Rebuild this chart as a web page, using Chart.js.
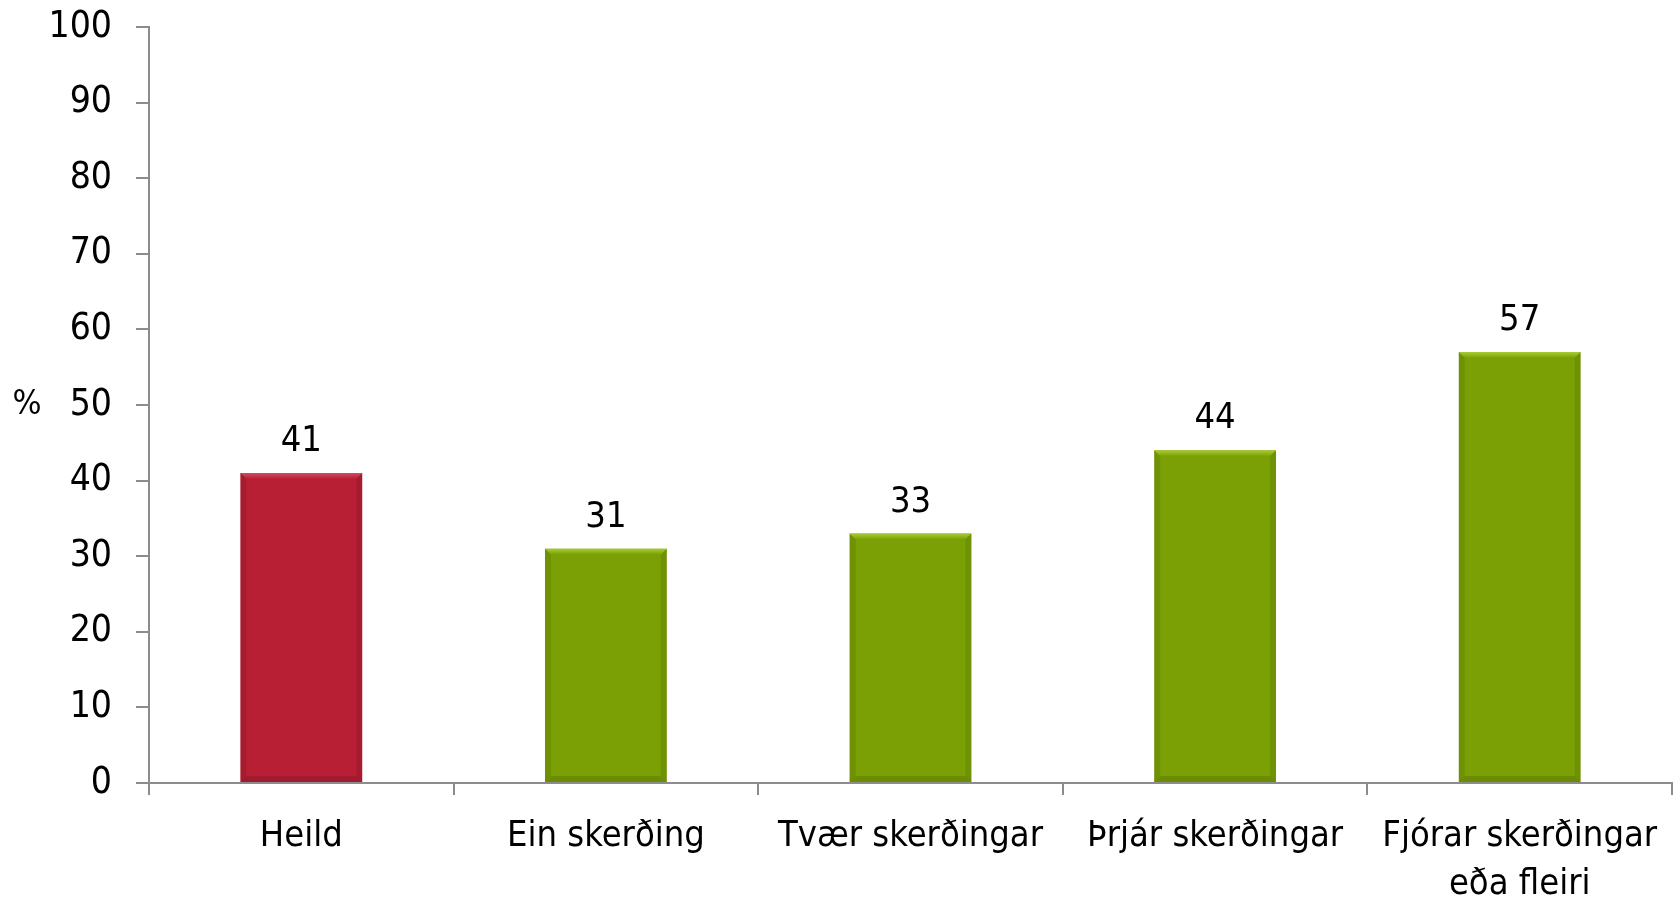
<!DOCTYPE html>
<html lang="is">
<head>
  <meta charset="UTF-8">
  <title>Skerðingar</title>
  <script src="https://cdn.jsdelivr.net/npm/chart.js"></script>
  <style>
    html, body { margin: 0; padding: 0; background: #fff; }
    #wrap { width: 1675px; height: 901px; }
  </style>
</head>
<body>
  <div id="wrap"><canvas id="chart" width="1675" height="901"></canvas></div>
  <script>
    // gögn
    const categories = ['Heild', 'Ein skerðing', 'Tvær skerðingar', 'Þrjár skerðingar', ['Fjórar skerðingar', 'eða fleiri']];
    const values = [41, 31, 33, 44, 57];
    const barColors = ['#B81E34', '#7AA005', '#7AA005', '#7AA005', '#7AA005'];
    const topColors = ['#D64A5E', '#A9CB35', '#A9CB35', '#A9CB35', '#A9CB35'];
    const yTitle = '%';

    const FONT = "'Liberation Sans Narrow', 'DejaVu Sans Condensed', 'Liberation Sans', sans-serif";
    const axisColor = '#8C8C8C';

    // skábrúnir á súlum + gildi ofan á
    const bevelPlugin = {
      id: 'bevel',
      afterDatasetsDraw(chart) {
        const ctx = chart.ctx;
        const meta = chart.getDatasetMeta(0);
        meta.data.forEach((bar, i) => {
          const l = bar.x - bar.width / 2, r = bar.x + bar.width / 2;
          const t = bar.y, b = bar.base;
          const e = 6;
          ctx.save();
          // toppur
          const g = ctx.createLinearGradient(0, t, 0, t + e);
          g.addColorStop(0, topColors[i]);
          g.addColorStop(1, barColors[i]);
          ctx.fillStyle = g;
          ctx.beginPath();
          ctx.moveTo(l, t); ctx.lineTo(r, t); ctx.lineTo(r - e, t + e); ctx.lineTo(l + e, t + e); ctx.closePath();
          ctx.fill();
          // hliðar
          ctx.fillStyle = 'rgba(0,0,0,0.09)';
          ctx.beginPath();
          ctx.moveTo(l, t); ctx.lineTo(l + e, t + e); ctx.lineTo(l + e, b - e); ctx.lineTo(l, b); ctx.closePath();
          ctx.fill();
          ctx.beginPath();
          ctx.moveTo(r, t); ctx.lineTo(r - e, t + e); ctx.lineTo(r - e, b - e); ctx.lineTo(r, b); ctx.closePath();
          ctx.fill();
          // botn
          ctx.fillStyle = 'rgba(0,0,0,0.12)';
          ctx.beginPath();
          ctx.moveTo(l, b); ctx.lineTo(l + e, b - e); ctx.lineTo(r - e, b - e); ctx.lineTo(r, b); ctx.closePath();
          ctx.fill();
          // gildi
          ctx.fillStyle = '#000';
          ctx.font = '36px ' + FONT;
          ctx.textAlign = 'center';
          ctx.textBaseline = 'alphabetic';
          ctx.fillText(String(values[i]), bar.x, t - 22);
          ctx.restore();
        });
        // % titill
        const area = chart.chartArea;
        ctx.save();
        ctx.fillStyle = '#000';
        ctx.font = '34px ' + FONT;
        ctx.textAlign = 'center';
        ctx.textBaseline = 'middle';
        ctx.fillText(yTitle, 27, (area.top + area.bottom) / 2);
        ctx.restore();
      }
    };

    new Chart(document.getElementById('chart').getContext('2d'), {
      type: 'bar',
      data: {
        labels: categories,
        datasets: [{
          data: values,
          backgroundColor: barColors,
          borderWidth: 0,
          categoryPercentage: 1,
          barPercentage: 0.4
        }]
      },
      options: {
        responsive: false,
        animation: false,
        layout: { padding: { top: 27, right: 3, left: 0, bottom: 0 } },
        plugins: { legend: { display: false }, tooltip: { enabled: false } },
        scales: {
          x: {
            afterFit(scale) { scale.height = 118; scale.paddingLeft = 0; scale.paddingRight = 0; },
            border: { color: axisColor, width: 2 },
            grid: { offset: true, drawOnChartArea: false, drawTicks: true, tickLength: 12, color: axisColor, lineWidth: 2 },
            ticks: { color: '#000', font: { family: FONT, size: 36, lineHeight: 1.33 }, padding: 18, maxRotation: 0, autoSkip: false }
          },
          y: {
            min: 0,
            max: 100,
            afterFit(scale) { scale.width = 149; scale.paddingTop = 0; scale.paddingBottom = 0; },
            border: { color: axisColor, width: 2 },
            grid: { drawOnChartArea: false, drawTicks: true, tickLength: 13, color: axisColor, lineWidth: 2 },
            ticks: { stepSize: 10, color: '#000', font: { family: FONT, size: 37 }, padding: 24 }
          }
        }
      },
      plugins: [bevelPlugin]
    });
  </script>
</body>
</html>
